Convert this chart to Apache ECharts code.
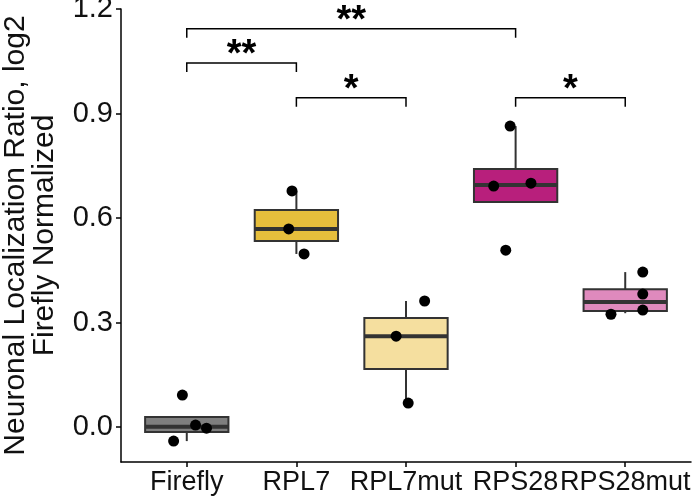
<!DOCTYPE html>
<html>
<head>
<meta charset="utf-8">
<script src="https://cdn.jsdelivr.net/npm/echarts@6/dist/echarts.min.js"></script>
<style>html,body{margin:0;padding:0;background:#fff}#c{width:693px;height:502px}</style>
</head>
<body>
<div id="c"></div>
<script>
// ---- data ----
var categories = ['Firefly', 'RPL7', 'RPL7mut', 'RPS28', 'RPS28mut'];
// box stats: [lowWhisker, Q1, median, Q3, highWhisker]
var boxFirefly  = [-0.040, -0.014, 0.001, 0.029, 0.029];
var boxRPL7     = [0.497, 0.534, 0.569, 0.623, 0.678];
var boxRPL7mut  = [0.069, 0.167, 0.261, 0.313, 0.362];
var boxRPS28    = [0.646, 0.646, 0.695, 0.741, 0.864];
var boxRPS28mut = [0.327, 0.333, 0.359, 0.396, 0.445];
// individual points
var ptsFirefly  = [0.092, 0.006, -0.003, -0.040];
var ptsRPL7     = [0.678, 0.569, 0.497];
var ptsRPL7mut  = [0.362, 0.261, 0.069];
var ptsRPS28    = [0.864, 0.692, 0.700, 0.508];
var ptsRPS28mut = [0.445, 0.382, 0.336, 0.324];
// horizontal jitter of the points (category units)
var jitFirefly  = [-0.04, 0.08, 0.18, -0.12];
var jitRPL7     = [-0.04, -0.07, 0.07];
var jitRPL7mut  = [0.17, -0.09, 0.02];
var jitRPS28    = [-0.05, -0.20, 0.14, -0.09];
var jitRPS28mut = [0.16, 0.16, 0.16, -0.13];
// significance brackets: from, to, height, label
var bracketFrom  = ['Firefly', 'Firefly', 'RPL7', 'RPS28'];
var bracketTo    = ['RPS28', 'RPL7', 'RPL7mut', 'RPS28mut'];
var bracketY     = [1.143, 1.045, 0.945, 0.945];
var bracketLabel = ['**', '**', '*', '*'];
var yTicks = [0.0, 0.3, 0.6, 0.9, 1.2];

var fills = ['#7F7F7F', '#E6BE3C', '#F5DF9F', '#B81F7C', '#DF8ABD'];
var boxes = [boxFirefly, boxRPL7, boxRPL7mut, boxRPS28, boxRPS28mut];
var pts = [ptsFirefly, ptsRPL7, ptsRPL7mut, ptsRPS28, ptsRPS28mut];
var jit = [jitFirefly, jitRPL7, jitRPL7mut, jitRPS28, jitRPS28mut];

var boxData = boxes.map(function (b, i) { return [i].concat(b); });
var pointData = [];
pts.forEach(function (arr, i) {
  arr.forEach(function (v, k) { pointData.push([i + jit[i][k], v]); });
});
var bracketData = bracketY.map(function (y, i) {
  return [categories.indexOf(bracketFrom[i]), categories.indexOf(bracketTo[i]), y, bracketLabel[i]];
});

var BW = 0.76;
var font = '"Liberation Sans", Arial, Helvetica, sans-serif';

var chart = echarts.init(document.getElementById('c'));
chart.setOption({
  animation: false,
  grid: { left: 121, right: 2, top: 9, bottom: 40, containLabel: false, outerBoundsMode: 'none' },
  xAxis: {
    type: 'value', min: -0.6, max: 4.6,
    splitLine: { show: false },
    axisLine: { show: true, onZero: false, lineStyle: { color: '#000', width: 1.5 } },
    axisTick: { show: true, customValues: [0, 1, 2, 3, 4], length: 5, lineStyle: { color: '#000', width: 1.5 } },
    axisLabel: {
      customValues: [0, 1, 2, 3, 4],
      formatter: function (v) { return categories[Math.round(v)]; },
      color: '#111', fontSize: 27, fontFamily: font, margin: 7
    }
  },
  yAxis: {
    type: 'value', min: -0.1, max: 1.2,
    name: 'Neuronal Localization Ratio, log2\nFirefly Normalized',
    nameLocation: 'middle', nameRotate: 90, nameGap: 62,
    nameTextStyle: { fontSize: 30, fontFamily: font, color: '#111', lineHeight: 29 },
    splitLine: { show: false },
    axisLine: { show: true, onZero: false, lineStyle: { color: '#000', width: 1.5 } },
    axisTick: { show: true, customValues: yTicks, length: 5, lineStyle: { color: '#000', width: 1.5 } },
    axisLabel: {
      customValues: yTicks,
      formatter: function (v) { return v.toFixed(1); },
      color: '#111', fontSize: 29, fontFamily: font, margin: 8
    }
  },
  series: [
    {
      type: 'custom',
      data: boxData,
      encode: { x: 0, y: [1, 2, 3, 4, 5] },
      renderItem: function (params, api) {
        var i = api.value(0);
        var lo = api.coord([i - BW / 2, api.value(2)]);
        var hi = api.coord([i + BW / 2, api.value(4)]);
        var med = api.value(3);
        var pMedL = api.coord([i - BW / 2, med]);
        var pMedR = api.coord([i + BW / 2, med]);
        var wLo = api.coord([i, api.value(1)]);
        var wQ1 = api.coord([i, api.value(2)]);
        var wQ3 = api.coord([i, api.value(4)]);
        var wHi = api.coord([i, api.value(5)]);
        var stroke = '#333333';
        return {
          type: 'group',
          children: [
            { type: 'line', shape: { x1: wQ3[0], y1: wQ3[1], x2: wHi[0], y2: wHi[1] }, style: { stroke: stroke, lineWidth: 2 } },
            { type: 'line', shape: { x1: wLo[0], y1: wLo[1], x2: wQ1[0], y2: wQ1[1] }, style: { stroke: stroke, lineWidth: 2 } },
            { type: 'rect', shape: { x: lo[0], y: hi[1], width: hi[0] - lo[0], height: lo[1] - hi[1] },
              style: { fill: fills[i], stroke: stroke, lineWidth: 2 } },
            { type: 'line', shape: { x1: pMedL[0], y1: pMedL[1], x2: pMedR[0], y2: pMedR[1] }, style: { stroke: stroke, lineWidth: 4 } }
          ]
        };
      },
      z: 2
    },
    {
      type: 'scatter',
      data: pointData,
      symbolSize: 11,
      itemStyle: { color: '#000', opacity: 1 },
      z: 3
    },
    {
      type: 'custom',
      data: bracketData,
      encode: { x: [0, 1], y: 2 },
      clip: false,
      renderItem: function (params, api) {
        var a = api.value(0), b = api.value(1), y = api.value(2);
        var label = bracketLabel[params.dataIndex];
        var p1 = api.coord([a, y]);
        var p2 = api.coord([b, y]);
        var drop = 9;
        return {
          type: 'group',
          children: [
            { type: 'polyline', shape: { points: [[p1[0], p1[1] + drop], [p1[0], p1[1]], [p2[0], p2[1]], [p2[0], p2[1] + drop]] },
              style: { stroke: '#000', lineWidth: 1.5, fill: null } },
            { type: 'text', x: (p1[0] + p2[0]) / 2, y: p1[1] - 7,
              style: { text: label, fill: '#000', font: 'bold 38px ' + font, align: 'center', verticalAlign: 'middle' } }
          ]
        };
      },
      z: 4
    }
  ]
});
</script>
</body>
</html>
